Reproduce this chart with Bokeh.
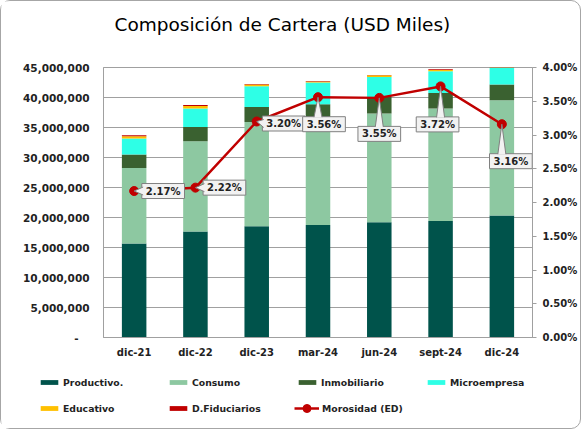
from bokeh.plotting import figure
from bokeh.layouts import column
from bokeh.models import (FactorRange, Range1d, LinearAxis, FixedTicker,
                          CustomJSTickFormatter, Legend, LegendItem, Label,
                          ColumnDataSource)
from bokeh.embed import file_html
from bokeh.resources import INLINE

# ---------------- data ----------------
categories = ["dic-21", "dic-22", "dic-23", "mar-24", "jun-24", "sept-24", "dic-24"]
productivo = [15.67e6, 17.67e6, 18.55e6, 18.77e6, 19.20e6, 19.43e6, 20.33e6]
consumo = [12.60e6, 15.05e6, 17.38e6, 17.60e6, 18.13e6, 18.74e6, 19.22e6]
inmobiliario = [2.23e6, 2.38e6, 2.50e6, 2.51e6, 2.77e6, 2.60e6, 2.62e6]
microempresa = [2.67e6, 3.07e6, 3.45e6, 3.62e6, 3.33e6, 3.61e6, 3.40e6]
educativo = [0.38e6, 0.43e6, 0.29e6, 0.17e6, 0.29e6, 0.22e6, 0.25e6]
fiduciarios = [0.15e6, 0.17e6, 0.10e6, 0.06e6, 0.05e6, 0.10e6, 0.10e6]
morosidad = [2.17, 2.22, 3.20, 3.56, 3.55, 3.72, 3.16]

title_text = "Composición de Cartera (USD Miles)"
series_names = ["Productivo.", "Consumo", "Inmobiliario", "Microempresa",
                "Educativo", "D.Fiduciarios"]
line_name = "Morosidad (ED)"
series_keys = ["productivo", "consumo", "inmobiliario", "microempresa",
               "educativo", "fiduciarios"]
colors = ["#00534B", "#8DC8A1", "#3A6130", "#2EFFE6", "#FFC000", "#C00000"]
line_color = "#C00000"

left_ticks = [0, 5e6, 10e6, 15e6, 20e6, 25e6, 30e6, 35e6, 40e6, 45e6]
right_ticks = [0, 0.5, 1.0, 1.5, 2.0, 2.5, 3.0, 3.5, 4.0]

# label callout offsets in screen px (dx right, dy up) — styling only
label_offsets = [(29, 0), (29, 0), (27, -2), (6, -27), (0, -36), (-3, -38), (9, -37)]

FRAME_W, FRAME_H = 429, 270
TOTAL_W = 571
TITLE_H = 34
FONT = "DejaVu Sans"

source = ColumnDataSource(dict(cat=categories, productivo=productivo, consumo=consumo,
                               inmobiliario=inmobiliario, microempresa=microempresa,
                               educativo=educativo, fiduciarios=fiduciarios,
                               morosidad=morosidad))

# ---------------- title strip ----------------
tp = figure(width=TOTAL_W, height=TITLE_H, x_range=Range1d(0, 1), y_range=Range1d(0, 1),
            x_axis_location=None, y_axis_location=None, min_border=0,
            output_backend="svg", toolbar_location=None)
tp.frame_align = False
tp.grid.visible = False
tp.outline_line_color = None
tp.add_layout(Label(x=113, y=TITLE_H - 23, x_units="screen", y_units="screen",
                    text=title_text, text_align="left", text_baseline="middle",
                    text_font=FONT, text_font_size="18.5px", text_color="#000000"))

# ---------------- main chart ----------------
p = figure(x_range=FactorRange(*categories), y_range=Range1d(0, 45e6),
           frame_width=FRAME_W, frame_height=FRAME_H,
           min_border_left=102, min_border_right=TOTAL_W - 102 - FRAME_W,
           min_border_top=66 - TITLE_H, min_border_bottom=30,
           output_backend="svg", toolbar_location=None)
p.frame_align = False
p.extra_y_ranges = {"pct": Range1d(0, 4)}

p.outline_line_color = "#A0A0A0"
p.xgrid.grid_line_color = None
p.ygrid.grid_line_color = "#A0A0A0"
p.ygrid.ticker = FixedTicker(ticks=left_ticks)

# left axis
ya = p.yaxis[0]
ya.ticker = FixedTicker(ticks=left_ticks)
ya.formatter = CustomJSTickFormatter(code="""
    if (tick == 0) { return '-\u00a0\u00a0\u00a0'; }
    return Math.round(tick).toLocaleString('en-US');
""")
ya.major_label_text_font = FONT
ya.major_label_text_font_style = "bold"
ya.major_label_text_font_size = "10.5px"
ya.major_label_text_color = "#222222"
ya.major_tick_out = 0
ya.major_tick_in = 0
ya.minor_tick_out = 0
ya.minor_tick_in = 0
ya.axis_line_color = "#A0A0A0"
ya.major_label_standoff = 14

# right axis
ra = LinearAxis(y_range_name="pct", ticker=FixedTicker(ticks=right_ticks))
ra.formatter = CustomJSTickFormatter(code="return tick.toFixed(2) + '%';")
ra.major_label_text_font = FONT
ra.major_label_text_font_style = "bold"
ra.major_label_text_font_size = "10px"
ra.major_label_text_color = "#222222"
ra.major_tick_out = 4
ra.major_tick_in = 0
ra.minor_tick_out = 0
ra.minor_tick_in = 0
ra.axis_line_color = "#A0A0A0"
ra.major_tick_line_color = "#A0A0A0"
ra.major_label_standoff = 6
p.add_layout(ra, "right")

# bottom axis
xa = p.xaxis[0]
xa.major_label_text_font = FONT
xa.major_label_text_font_style = "bold"
xa.major_label_text_font_size = "10px"
xa.major_label_text_color = "#222222"
xa.major_tick_out = 0
xa.major_tick_in = 0
xa.axis_line_color = "#A0A0A0"
xa.major_label_standoff = 9

# stacked bars
p.vbar_stack(series_keys, x="cat", width=0.4, color=colors,
             line_color=None, source=source)

# morosidad line
p.line("cat", "morosidad", source=source, y_range_name="pct",
       line_color=line_color, line_width=2.5)
p.scatter("cat", "morosidad", source=source, y_range_name="pct",
          size=9, fill_color=line_color, line_color=line_color)

# callout labels + pointers
xu = len(categories) / FRAME_W
yu = 4.0 / FRAME_H
BW, BH = 42, 16
tri_xs, tri_ys, edge_xs, edge_ys = [], [], [], []
for i, (m, (dx, dy)) in enumerate(zip(morosidad, label_offsets)):
    cx = i + 0.5
    if dy > -10:
        ex = dx - BW / 2 + 1
        pts = [(0, 0), (ex, dy - 4), (ex, dy + 4)]
    else:
        ey = dy + BH / 2 - 1
        pts = [(0, 0), (-4, ey), (4, ey)]
    xs = [cx + px * xu for px, py in pts]
    ys = [m + py * yu for px, py in pts]
    tri_xs.append(xs)
    tri_ys.append(ys)
    edge_xs.append([xs[1], xs[0], xs[2]])
    edge_ys.append([ys[1], ys[0], ys[2]])
    lab = Label(x=cx, y=m, y_range_name="pct", x_offset=dx, y_offset=dy,
                text=f"{m:.2f}%", text_align="center", text_baseline="middle",
                text_font=FONT, text_font_style="bold", text_font_size="10px",
                text_color="#222222", background_fill_color="#F2F2F2",
                border_line_color="#808080", border_line_width=1, padding=(4, 2))
    p.add_layout(lab)

p.patches(tri_xs, tri_ys, y_range_name="pct", fill_color="#F2F2F2",
          line_color=None, level="overlay")
p.multi_line(edge_xs, edge_ys, y_range_name="pct", line_color="#808080",
             line_width=1, level="overlay")

# ---------------- legend strip (proxy renderers lie below its ranges) ----------------
lp = figure(width=TOTAL_W, height=61, x_range=FactorRange(*categories),
            y_range=Range1d(50e6, 100e6), x_axis_location=None, y_axis_location=None,
            min_border=0, output_backend="svg", toolbar_location=None)
lp.frame_align = False
lp.extra_y_ranges = {"pct": Range1d(5, 10)}
lp.grid.visible = False
lp.outline_line_color = None
proxies = lp.vbar_stack(series_keys, x="cat", width=0.4, color=colors,
                        line_color=None, source=source)
items = [LegendItem(label=n, renderers=[r]) for n, r in zip(series_names, proxies)]
lr = lp.line("cat", "morosidad", source=source, y_range_name="pct",
             line_color=line_color, line_width=2.5)
ls = lp.scatter("cat", "morosidad", source=source, y_range_name="pct",
                size=9, fill_color=line_color, line_color=line_color)

common = dict(orientation="horizontal", label_standoff=3, label_width=98,
              label_height=20, spacing=6, padding=0, margin=0,
              border_line_color=None, background_fill_alpha=0,
              label_text_font=FONT, label_text_font_style="bold",
              label_text_font_size="9.3px", label_text_color="#222222")
legend_bars = Legend(items=items, location=(37, 10), ncols=4,
                     glyph_width=22, glyph_height=6, **common)
legend_line = Legend(items=[LegendItem(label=line_name, renderers=[lr, ls])],
                     location=(293, 10), glyph_width=25, glyph_height=20, **common)
lp.add_layout(legend_bars)
lp.add_layout(legend_line)

layout = column(tp, p, lp, spacing=0,
                styles={"border": "1px solid #A6A6A6", "border-radius": "10px"})

open("out.html", "w").write(file_html(layout, INLINE))
